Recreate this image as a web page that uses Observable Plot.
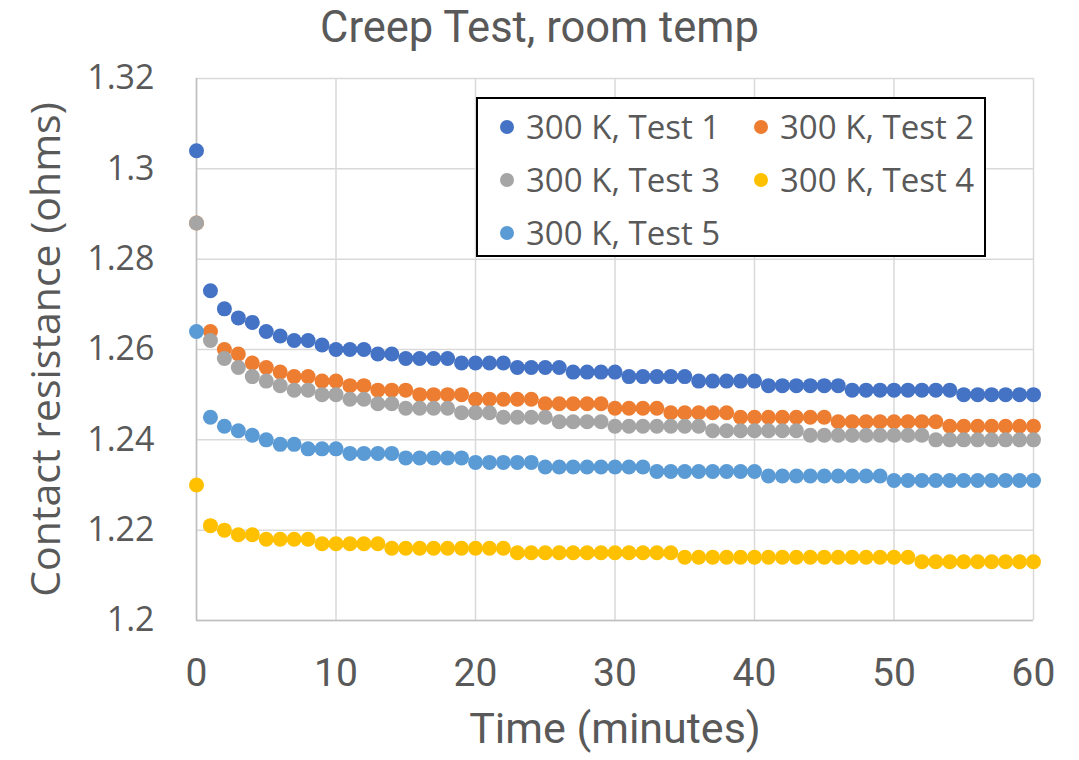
<!DOCTYPE html>
<html>
<head>
<meta charset="utf-8">
<script src="https://cdn.jsdelivr.net/npm/d3@7"></script>
<script src="https://cdn.jsdelivr.net/npm/@observablehq/plot@0.6"></script>
<style>
  html, body { margin: 0; padding: 0; background: #fff; }
  #wrap { position: relative; width: 1079px; height: 760px; overflow: hidden; }
  #title { height: 55px; line-height: 55px; text-align: center; color: #595959;
           font-family: Roboto, sans-serif; font-size: 43.5px; }
  #legend { position: absolute; left: 476px; top: 97px; width: 510px; height: 160px;
            border: 2px solid #000; background: #fff; box-sizing: border-box; }
  .item { position: absolute; font-family: "Open Sans", sans-serif; font-size: 33px; color: #595959; white-space: nowrap; line-height: 40px; height: 40px; }
  .item .sw { position: absolute; left: 0; top: 13px; width: 14px; height: 14px; border-radius: 50%; }
  .item span.t { position: absolute; left: 26px; top: 0; }
</style>
</head>
<body>
<div id="wrap">
  <div id="title">Creep Test, room temp</div>
  <div id="chart"></div>
  <div id="legend"></div>
</div>
<script>
const title = "Creep Test, room temp";
const xLabel = "Time (minutes)";
const yLabel = "Contact resistance (ohms)";
const seriesNames = ["300 K, Test 1", "300 K, Test 2", "300 K, Test 3", "300 K, Test 4", "300 K, Test 5"];
const seriesColors = ["#4472C4", "#ED7D31", "#A5A5A5", "#FFC000", "#5B9BD5"];
const xTicks = [0, 10, 20, 30, 40, 50, 60];
const yTicks = [1.2, 1.22, 1.24, 1.26, 1.28, 1.3, 1.32];

const time = [0,1,2,3,4,5,6,7,8,9,10,11,12,13,14,15,16,17,18,19,20,21,22,23,24,25,26,27,28,29,30,
  31,32,33,34,35,36,37,38,39,40,41,42,43,44,45,46,47,48,49,50,51,52,53,54,55,56,57,58,59,60];

const test1 = [1.304,1.273,1.269,1.267,1.266,1.264,1.263,1.262,1.262,1.261,
  1.260,1.260,1.260,1.259,1.259,1.258,1.258,1.258,1.258,1.257,
  1.257,1.257,1.257,1.256,1.256,1.256,1.256,1.255,1.255,1.255,
  1.255,1.254,1.254,1.254,1.254,1.254,1.253,1.253,1.253,1.253,
  1.253,1.252,1.252,1.252,1.252,1.252,1.252,1.251,1.251,1.251,
  1.251,1.251,1.251,1.251,1.251,1.250,1.250,1.250,1.250,1.250,
  1.250];
const test2 = [1.288,1.264,1.260,1.259,1.257,1.256,1.255,1.254,1.254,1.253,
  1.253,1.252,1.252,1.251,1.251,1.251,1.250,1.250,1.250,1.250,
  1.249,1.249,1.249,1.249,1.249,1.248,1.248,1.248,1.248,1.248,
  1.247,1.247,1.247,1.247,1.246,1.246,1.246,1.246,1.246,1.245,
  1.245,1.245,1.245,1.245,1.245,1.245,1.244,1.244,1.244,1.244,
  1.244,1.244,1.244,1.244,1.243,1.243,1.243,1.243,1.243,1.243,
  1.243];
const test3 = [1.288,1.262,1.258,1.256,1.254,1.253,1.252,1.251,1.251,1.250,
  1.250,1.249,1.249,1.248,1.248,1.247,1.247,1.247,1.247,1.246,
  1.246,1.246,1.245,1.245,1.245,1.245,1.244,1.244,1.244,1.244,
  1.243,1.243,1.243,1.243,1.243,1.243,1.243,1.242,1.242,1.242,
  1.242,1.242,1.242,1.242,1.241,1.241,1.241,1.241,1.241,1.241,
  1.241,1.241,1.241,1.240,1.240,1.240,1.240,1.240,1.240,1.240,
  1.240];
const test4 = [1.230,1.221,1.220,1.219,1.219,1.218,1.218,1.218,1.218,1.217,
  1.217,1.217,1.217,1.217,1.216,1.216,1.216,1.216,1.216,1.216,
  1.216,1.216,1.216,1.215,1.215,1.215,1.215,1.215,1.215,1.215,
  1.215,1.215,1.215,1.215,1.215,1.214,1.214,1.214,1.214,1.214,
  1.214,1.214,1.214,1.214,1.214,1.214,1.214,1.214,1.214,1.214,
  1.214,1.214,1.213,1.213,1.213,1.213,1.213,1.213,1.213,1.213,
  1.213];
const test5 = [1.264,1.245,1.243,1.242,1.241,1.240,1.239,1.239,1.238,1.238,
  1.238,1.237,1.237,1.237,1.237,1.236,1.236,1.236,1.236,1.236,
  1.235,1.235,1.235,1.235,1.235,1.234,1.234,1.234,1.234,1.234,
  1.234,1.234,1.234,1.233,1.233,1.233,1.233,1.233,1.233,1.233,
  1.233,1.232,1.232,1.232,1.232,1.232,1.232,1.232,1.232,1.232,
  1.231,1.231,1.231,1.231,1.231,1.231,1.231,1.231,1.231,1.231,
  1.231];

const seriesValues = [test1, test2, test3, test4, test5];
const rows = [];
seriesValues.forEach((vals, i) => time.forEach((t, j) => rows.push({series: seriesNames[i], t, r: vals[j]})));

const narrow = "Roboto, sans-serif";
const wide = "'Open Sans', sans-serif";

const chart = Plot.plot({
  width: 1079,
  height: 705,
  marginTop: 23,
  marginBottom: 140,
  marginLeft: 196,
  marginRight: 46,
  style: {background: "#fff", color: "#595959", overflow: "visible"},
  x: {domain: [0, 60]},
  y: {domain: [1.2, 1.32]},
  color: {domain: seriesNames, range: seriesColors},
  marks: [
    Plot.gridX(xTicks, {stroke: "#d9d9d9", strokeOpacity: 1, strokeWidth: 1.5}),
    Plot.gridY(yTicks, {stroke: "#d9d9d9", strokeOpacity: 1, strokeWidth: 1.5}),
    Plot.ruleY([1.2], {stroke: "#bfbfbf", strokeWidth: 1.5}),
    Plot.ruleX([0], {stroke: "#bfbfbf", strokeWidth: 1.5}),
    Plot.axisX(xTicks, {tickSize: 0, tickPadding: 38, fontSize: 39, fontFamily: narrow, fill: "#595959",
      label: xLabel, labelAnchor: "center", labelArrow: "none", labelOffset: 122}),
    Plot.axisY(yTicks, {tickSize: 0, tickPadding: 42, fontSize: 34, fontFamily: wide, fill: "#595959",
      tickFormat: d => String(+d.toFixed(2)),
      label: yLabel, labelAnchor: "center", labelArrow: "none", labelOffset: 166}),
    Plot.dot(rows, {x: "t", y: "r", fill: "series", r: 7.5})
  ]
});
document.getElementById("chart").appendChild(chart);

// style axis labels
chart.querySelectorAll("[aria-label='x-axis label'] text, [aria-label='x-axis label']").forEach(el => {
  el.setAttribute("font-size", 43); el.setAttribute("font-family", narrow);
});
chart.querySelectorAll("[aria-label='y-axis label'] text, [aria-label='y-axis label']").forEach(el => {
  el.setAttribute("font-size", 41); el.setAttribute("font-family", wide);
});

const legend = document.getElementById("legend");
const pos = [[29, 28], [283, 28], [29, 81], [283, 81], [29, 134]];
seriesNames.forEach((name, i) => {
  const it = document.createElement("div");
  it.className = "item";
  it.style.left = (pos[i][0] - 7) + "px";
  it.style.top = (pos[i][1] - 20) + "px";
  it.innerHTML = `<div class="sw" style="background:${seriesColors[i]}"></div><span class="t">${name}</span>`;
  legend.appendChild(it);
});
</script>
</body>
</html>
